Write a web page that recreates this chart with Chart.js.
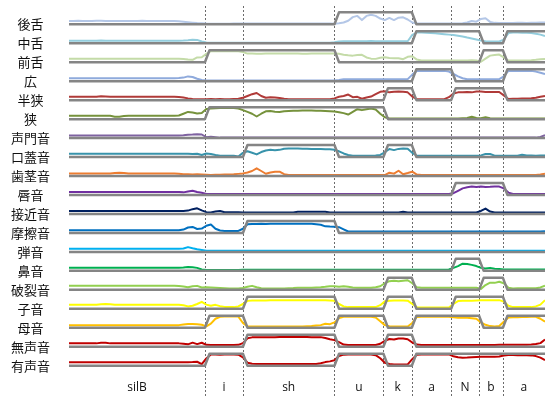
<!DOCTYPE html>
<html><head><meta charset="utf-8">
<script src="https://cdn.jsdelivr.net/npm/chart.js@4"></script>
<style>html,body{margin:0;padding:0;background:#fff}canvas{display:block}</style>
</head><body>
<canvas id="c" width="545" height="398"></canvas>
<script>
// ---------- DATA ----------
const features = ['後舌','中舌','前舌','広','半狭','狭','声門音','口蓋音','歯茎音','唇音','接近音','摩擦音','弾音','鼻音','破裂音','子音','母音','無声音','有声音'];
const segments = ['silB','i','sh','u','k','a','N','b','a'];
const boundaries = [297, 380, 580, 687, 749, 835, 896, 948]; // ms, segment borders
const endTime = 1040;
const frameStep = 10; // ms per frame

// target (gray step) per segment: silB,i,sh,u,k,a,N,b,a
const tBack        = [0,0,0,1,1,0,0,0,0];
const tCentral     = [0,0,0,0,0,1,1,0,1];
const tFront       = [0,1,1,0,0,0,0,1,0];
const tOpen        = [0,0,0,0,0,1,0,0,1];
const tMidClose    = [0,0,0,0,1,0,1,1,0];
const tClose       = [0,1,1,1,0,0,0,0,0];
const tGlottal     = [0,0,0,0,0,0,0,0,0];
const tPalatal     = [0,0,1,0,1,0,0,0,0];
const tAlveolar    = [0,0,0,0,0,0,0,0,0];
const tLabial      = [0,0,0,0,0,0,1,1,0];
const tApproximant = [0,0,0,0,0,0,0,0,0];
const tFricative   = [0,0,1,0,0,0,0,0,0];
const tTap         = [0,0,0,0,0,0,0,0,0];
const tNasal       = [0,0,0,0,0,0,1,0,0];
const tPlosive     = [0,0,0,0,1,0,0,1,0];
const tConsonant   = [0,0,1,0,1,0,1,1,0];
const tVowel       = [0,1,0,1,0,1,1,0,1];
const tVoiceless   = [0,0,1,0,1,0,0,0,0];
const tVoiced      = [0,1,0,1,0,1,1,1,1];

// observed values per 10 ms frame, in % of step height
const back = [
 28,28,29,28,28,28,29,29,28,28, 28,28,27,28,28,28,29,28,28,28, 28,27,28,28,26,22,18,14,10,8,
 6,5,5,5,5,5,6,6,
 6,6,6,6,6,6,6,6,6,6, 6,6,6,6,6,6,6,6,6,6,
 5,8,15,30,60,70,35,70,80,70,48,
 35,53,35,55,58,40,
 15,6,6,6,6,6,6,6,6,
 6,6,8,15,28,22,
 45,50,20,12,10,
 10,10,10,12,12,10,12,12,14,14];
const central = [
 22,22,22,22,22,22,22,23,22,22, 21,22,22,22,22,22,22,22,22,22, 22,22,22,22,22,23,25,30,28,15,
 6,5,5,5,5,5,5,5,
 5,5,5,5,5,5,5,5,5,5, 5,5,5,5,5,5,5,5,5,5,
 8,15,17,17,17,17,17,17,18,17,17,
 17,17,17,17,17,17,
 70,89,89,88,86,84,80,76,72,
 68,63,57,48,40,32,
 22,17,15,15,15,
 30,85,89,89,88,88,86,80,72,60];
const front = [
 28,28,28,28,28,28,28,29,29,28, 28,28,28,28,28,28,28,28,28,28, 28,28,28,28,28,27,22,20,40,42,
 70,92,92,92,93,92,92,92,
 85,72,72,71,71,72,72,72,73,73, 72,72,72,71,71,72,72,72,72,72,
 72,70,62,58,55,60,62,40,30,28,38,
 42,35,33,33,25,45,
 50,22,14,14,14,14,14,14,14,
 14,14,14,14,16,14,
 4,30,55,60,64,
 40,14,14,14,14,14,16,20,25,28];
const open = [
 25,25,25,25,25,25,25,25,25,25, 25,25,25,25,25,25,25,25,25,25, 25,25,25,25,26,30,40,35,20,10,
 5,5,5,5,5,5,5,5,
 5,5,5,5,5,5,5,5,5,5, 5,5,5,5,5,5,5,5,5,5,
 5,10,17,17,17,17,17,17,17,17,17,
 17,17,17,17,17,17,
 55,86,86,86,87,86,86,86,80,
 60,40,25,17,17,17,
 17,17,17,17,17,
 40,86,86,86,86,86,86,80,70,60];
const midClose = [
 28,28,28,28,28,28,28,32,31,28, 28,28,28,28,28,28,28,28,28,28, 28,28,28,28,26,22,15,10,8,8,
 8,10,8,10,8,8,10,12,
 20,35,50,60,35,20,25,22,18,12, 8,8,8,8,8,8,8,8,8,8,
 15,28,35,47,25,28,12,22,30,50,70,
 75,65,70,72,70,65,
 30,8,8,8,8,8,8,8,25,
 55,65,65,68,65,72,
 72,68,68,68,68,
 40,10,12,12,14,14,16,20,28,35];
const close = [
 28,28,28,28,28,28,28,28,28,28, 20,20,26,28,28,28,28,28,28,28, 28,28,28,28,30,45,60,55,47,52,
 85,88,90,92,92,92,92,88,
 75,60,45,22,45,65,67,62,60,65, 68,70,70,72,72,72,70,70,68,66,
 64,58,50,38,60,83,75,82,89,80,45,
 15,5,5,5,5,5,
 5,5,5,5,5,5,5,5,5,
 5,5,8,10,20,10,
 8,15,8,5,5,
 5,5,5,5,5,5,6,6,6,6];
const glottal = [
 22,22,22,22,22,22,22,22,22,22, 22,22,22,22,22,22,22,22,22,22, 22,22,22,22,22,24,28,30,33,30,
 8,12,8,4,4,4,4,4,
 4,4,4,4,4,4,4,4,4,4, 4,4,4,4,4,4,4,4,4,4,
 4,4,4,4,4,4,4,4,4,4,4,
 4,4,4,4,4,4,
 4,4,4,4,4,4,4,4,4,
 4,4,4,4,4,4,
 4,4,4,4,4,
 4,4,4,4,4,4,4,4,10,25];
const palatal = [
 28,28,28,28,28,28,28,28,28,28, 28,28,28,28,28,28,28,28,28,28, 28,28,28,28,28,28,28,25,28,17,
 30,25,17,12,12,11,11,5,
 35,48,36,22,42,55,60,56,60,70, 72,72,72,70,70,68,68,68,66,65,
 60,48,30,17,11,11,11,11,11,13,18,
 40,67,58,68,72,70,
 35,11,11,11,11,11,11,11,11,
 11,11,11,11,11,12,
 14,25,25,12,11,
 11,11,11,11,20,14,14,12,14,14];
const alveolar = [
 22,22,22,22,22,22,22,22,22,22, 26,28,26,22,22,22,22,22,22,22, 22,22,22,22,20,15,14,12,14,12,
 10,8,10,10,12,12,14,18,
 22,30,42,64,42,19,30,36,36,15, 8,8,8,8,8,8,8,8,8,8,
 8,8,8,8,8,8,8,8,8,8,8,
 8,28,20,44,15,25,
 36,12,8,8,8,8,8,8,8,
 8,8,8,8,8,8,
 8,8,8,8,8,
 8,8,8,8,8,8,8,8,12,20];
const labial = [
 25,25,25,25,25,25,25,25,25,25, 25,25,25,25,25,25,25,25,25,25, 25,25,25,25,25,22,30,36,25,18,
 8,8,8,8,8,8,8,8,
 8,8,8,8,8,8,8,8,8,8, 8,8,8,8,8,8,8,8,8,8,
 8,8,8,8,8,8,8,8,8,8,8,
 8,8,8,8,8,8,
 8,8,8,8,8,8,8,8,8,
 15,35,55,64,70,66,
 70,67,68,70,70,
 55,20,8,8,8,8,8,8,8,8];
const approximant = [
 25,25,25,25,25,25,25,25,25,25, 25,25,25,25,25,25,25,25,25,25, 25,25,25,25,25,25,28,40,47,30,
 15,12,20,25,15,14,14,14,
 12,12,12,12,12,12,12,12,12,12, 12,12,18,18,18,18,18,18,18,12,
 12,12,12,12,12,12,12,12,12,12,12,
 12,12,12,12,18,12,
 12,12,12,12,12,12,12,12,12,
 12,12,12,12,12,12,
 25,45,20,12,12,
 12,12,12,12,12,12,12,12,12,12];
const fricative = [
 22,22,22,22,22,22,22,22,22,22, 22,22,22,22,22,22,22,22,22,22, 22,22,22,22,22,28,45,50,33,36,
 60,70,35,20,17,17,17,17,
 35,72,75,75,76,75,76,77,76,77, 76,76,77,77,76,76,72,68,55,53,
 52,48,30,12,11,11,11,11,11,11,11,
 11,11,11,11,11,11,
 11,11,11,11,11,11,11,11,11,
 11,11,11,11,11,11,
 11,11,11,11,11,
 11,11,11,11,11,11,11,11,12,15];
const tap = [
 27,27,27,27,27,27,27,27,27,27, 27,27,27,27,27,27,27,27,27,27, 27,27,27,27,27,28,40,30,22,16,
 10,10,10,10,10,10,10,10,
 10,10,10,10,10,10,10,10,10,10, 10,10,10,10,10,10,10,10,10,10,
 10,10,10,10,10,10,10,10,10,10,10,
 10,10,10,10,10,10,
 10,10,10,10,10,10,10,10,10,
 10,10,10,10,10,10,
 10,10,10,10,10,
 10,10,10,10,10,10,10,10,10,10];
const nasal = [
 25,25,25,25,25,25,25,25,25,25, 25,25,25,25,25,25,25,25,25,25, 25,25,25,25,25,28,33,30,25,12,
 8,8,8,8,8,8,8,8,
 10,10,10,10,10,10,10,10,10,10, 10,10,10,10,10,10,10,10,10,10,
 10,10,10,10,10,10,10,10,10,10,10,
 10,10,10,10,10,10,
 10,10,10,10,10,10,10,10,12,
 25,40,60,58,50,40,
 25,20,25,18,15,
 12,12,12,12,12,12,12,12,12,12];
const plosive = [
 33,33,33,33,33,33,33,34,34,33, 33,33,33,33,33,33,33,33,33,33, 33,33,33,33,32,28,22,30,33,19,
 22,20,18,16,14,12,12,12,
 15,25,33,22,14,11,11,11,11,11, 14,15,17,18,18,18,20,22,25,30,
 30,25,30,25,20,18,17,17,17,22,30,
 55,72,75,72,76,80,
 55,22,17,17,17,17,17,17,17,
 17,17,17,17,17,17,
 8,40,60,58,67,
 55,18,12,14,14,14,14,14,20,35];
const consonant = [
 33,33,33,33,33,33,33,38,40,38, 33,33,33,33,33,33,33,33,33,33, 33,33,33,33,33,30,20,25,40,58,
 35,25,33,22,16,14,14,20,
 40,66,70,70,70,70,71,71,72,72, 72,72,71,71,71,72,72,72,71,70,
 68,40,20,14,14,14,14,14,14,14,30,
 62,68,70,70,70,68,
 40,14,11,11,11,11,11,11,11,
 40,64,68,68,68,70,
 72,72,72,72,72,
 60,25,14,14,14,14,14,20,35,72];
const vowel = [
 22,22,22,22,22,22,22,22,22,22, 22,22,22,22,22,22,22,22,22,22, 22,22,22,22,22,28,31,31,30,25,
 12,35,75,92,94,94,94,93,
 40,10,10,10,10,10,10,10,10,10, 10,10,10,10,12,14,18,22,33,30,
 45,80,92,92,92,92,92,92,92,85,55,
 22,12,11,11,11,11,
 40,90,92,92,92,92,92,92,92,
 88,84,84,84,80,75,
 45,25,14,11,14,
 50,86,88,88,90,90,92,92,75,50];
const voiceless = [
 28,28,28,28,28,28,28,33,33,28, 28,28,28,28,28,28,28,28,28,28, 28,28,28,28,28,25,20,34,22,33,
 16,14,14,14,14,14,14,16,
 30,70,78,78,79,79,80,80,81,81, 82,82,82,82,81,80,80,80,72,62,
 55,38,18,14,14,14,14,14,14,14,25,
 50,64,60,68,68,62,
 35,18,14,14,14,14,14,14,14,
 14,14,14,14,15,15,
 15,15,15,15,16,
 16,16,16,16,17,17,18,22,30,60];
const voiced = [
 28,28,28,28,28,28,28,28,28,28, 28,28,28,28,28,28,28,28,28,28, 28,28,28,28,28,28,28,30,33,14,
 60,94,94,92,94,94,93,92,
 70,25,16,14,14,14,14,14,14,14, 14,14,14,14,14,14,14,20,30,36,
 45,80,92,94,94,94,94,94,94,88,62,
 25,14,11,11,11,11,
 55,92,94,94,94,94,94,94,94,
 78,70,67,68,70,72,
 74,75,75,75,76,
 85,89,89,88,87,87,86,80,67,47];

// ---------- STYLE ----------
const observed = [back, central, front, open, midClose, close, glottal, palatal, alveolar, labial, approximant, fricative, tap, nasal, plosive, consonant, vowel, voiceless, voiced];
const targets = [tBack, tCentral, tFront, tOpen, tMidClose, tClose, tGlottal, tPalatal, tAlveolar, tLabial, tApproximant, tFricative, tTap, tNasal, tPlosive, tConsonant, tVowel, tVoiceless, tVoiced];
const colors = ['#b4c7e7','#93cddd','#c4dba8','#8faadc','#b03a38','#76923c','#7f63a1','#3893ab','#ed7d31','#7030a0','#002060','#0070c0','#00b0f0','#00b050','#92d050','#ffff00','#ffc000','#c00000','#c00000'];
const STEP = 0.633; // step height in row units

const nRows = features.length;
const datasets = [];
features.forEach((name, r) => {
  const base = nRows - 1 - r;
  const t = targets[r];
  const pts = [{x: 0, y: base + t[0] * STEP}];
  boundaries.forEach((b, i) => {
    pts.push({x: b, y: base + t[i] * STEP});
    pts.push({x: b + frameStep, y: base + t[i + 1] * STEP});
  });
  pts.push({x: endTime, y: base + t[t.length - 1] * STEP});
  datasets.push({label: name + ' 目標', data: pts, borderColor: '#858585', borderWidth: 2.5, order: 0});
  datasets.push({label: name, data: observed[r].map((v, k) => ({x: k * frameStep, y: base + v / 100 * STEP})), borderColor: colors[r], borderWidth: 2, order: 1});
});

const segStarts = [0, ...boundaries];
const segEnds = [...boundaries, endTime];
const segCenters = segStarts.map((s, i) => (s + segEnds[i]) / 2);

const dividerPlugin = {
  id: 'dividers',
  beforeDatasetsDraw(chart) {
    const ctx = chart.ctx, xs = chart.scales.x;
    ctx.save();
    ctx.strokeStyle = '#6b6b6b';
    ctx.lineWidth = 1;
    ctx.setLineDash([2, 2]);
    boundaries.forEach(b => {
      const x = Math.round(xs.getPixelForValue(b)) + 0.5;
      ctx.beginPath();
      ctx.moveTo(x, 6);
      ctx.lineTo(x, chart.height);
      ctx.stroke();
    });
    ctx.restore();
  }
};

const noPad = s => { s.paddingTop = 0; s.paddingBottom = 0; s.paddingLeft = 0; s.paddingRight = 0; };

new Chart(document.getElementById('c'), {
  type: 'line',
  data: {datasets},
  plugins: [dividerPlugin],
  options: {
    responsive: false,
    animation: false,
    devicePixelRatio: 1,
    layout: {padding: {top: 6, left: 0, right: 0, bottom: 0}},
    elements: {point: {radius: 0}, line: {tension: 0, borderCapStyle: 'butt', borderJoinStyle: 'round'}},
    plugins: {legend: {display: false}, tooltip: {enabled: false}},
    scales: {
      x: {
        type: 'linear', min: 0, max: endTime,
        grid: {display: false, drawTicks: false},
        border: {display: false},
        afterBuildTicks: s => { s.ticks = segCenters.map(v => ({value: v})); },
        afterFit: s => { s.height = 26; noPad(s); },
        ticks: {autoSkip: false, maxRotation: 0, padding: 8, color: '#111',
          font: {family: '"Open Sans", "Liberation Sans", sans-serif', size: 12},
          callback: (v, i) => segments[i]}
      },
      y: {
        type: 'linear', min: -0.332, max: 18.965,
        grid: {display: false, drawTicks: false},
        border: {display: false},
        afterBuildTicks: s => { s.ticks = features.map((_, r) => ({value: nRows - 1 - r})); },
        afterFit: s => { s.width = 69; noPad(s); },
        ticks: {autoSkip: false, crossAlign: 'center', padding: 19, color: '#111',
          font: {family: '"Noto Sans CJK JP", sans-serif', size: 13},
          callback: v => features[nRows - 1 - Math.round(v)]}
      }
    }
  }
});
</script>
</body></html>
